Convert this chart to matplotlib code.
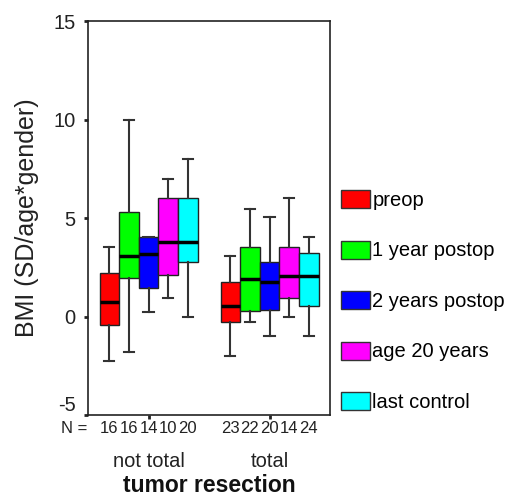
import matplotlib.pyplot as plt
from matplotlib.patches import Patch

plt.rcParams['font.family'] = ['Liberation Sans', 'DejaVu Sans']
plt.rcParams['axes.unicode_minus'] = False

groups = ['not total', 'total']
series = ['preop', '1 year postop', '2 years postop', 'age 20 years', 'last control']
colors = ['#ff0000', '#00ff00', '#0000ff', '#ff00ff', '#00ffff']

# per series: [not total, total]
med = [[0.73, 0.51], [3.05, 1.90], [3.18, 1.75], [3.76, 2.08], [3.76, 2.07]]
q1 = [[-0.42, -0.28], [1.95, 0.29], [1.47, 0.34], [2.12, 0.93], [2.76, 0.54]]
q3 = [[2.23, 1.75], [5.30, 3.52], [4.03, 2.79], [6.00, 3.52], [6.00, 3.25]]
lo = [[-2.25, -2.03], [-1.80, -0.28], [0.22, -1.01], [0.96, 0.00], [0.00, -1.01]]
hi = [[3.53, 3.05], [10.0, 5.47], [4.03, 5.04], [7.00, 6.00], [8.00, 4.03]]
counts = [[16, 23], [16, 22], [14, 20], [10, 14], [20, 24]]

fig = plt.figure(figsize=(5.07, 5.03), dpi=100)
ax = fig.add_axes([0.1736, 0.175, 0.4774, 0.783])

w = 0.162
for i in range(len(series)):
    stats = []
    pos = []
    for g in range(len(groups)):
        stats.append(dict(med=med[i][g], q1=q1[i][g], q3=q3[i][g],
                          whislo=lo[i][g], whishi=hi[i][g], fliers=[]))
        pos.append(g + 1 + (i - 2) * w)
    ax.bxp(stats, positions=pos, widths=w, patch_artist=True, manage_ticks=False,
           boxprops=dict(facecolor=colors[i], edgecolor='#222222', linewidth=1.0),
           medianprops=dict(color='black', linewidth=2.5),
           whiskerprops=dict(color='#333333', linewidth=1.5),
           capprops=dict(color='#333333', linewidth=1.5), capwidths=w * 0.52)
    for g in range(len(groups)):
        ax.text(pos[g], -0.035, str(counts[i][g]), transform=ax.get_xaxis_transform(),
                ha='center', va='center', fontsize=12, color='#222222')

ax.text(0.5 - 0.005, -0.035, 'N =', transform=ax.get_xaxis_transform(),
        ha='right', va='center', fontsize=12, color='#222222')
for g, name in enumerate(groups):
    ax.text(g + 1, -0.117, name, transform=ax.get_xaxis_transform(),
            ha='center', va='center', fontsize=14.5, color='#222222')

ax.set_xlim(0.5, 2.5)
ax.set_ylim(-5, 15)
ax.set_xticks([1, 2])
ax.set_xticklabels([])
ax.set_yticks([-5, 0, 5, 10, 15])
ax.tick_params(axis='both', direction='out', length=3, width=2, labelsize=14.5,
               colors='#222222')
ax.tick_params(axis='y', pad=6)
ax.get_yticklabels()[0].set_va('bottom')
for s in ax.spines.values():
    s.set_linewidth(1.2)
    s.set_color('#222222')

ax.set_ylabel('BMI (SD/age*gender)', fontsize=18, color='#222222', labelpad=10)
ax.set_xlabel('tumor resection', fontsize=16.5, fontweight='bold', color='#111111',
              labelpad=36)

handles = [Patch(facecolor=c, edgecolor='#333333', linewidth=1.0) for c in colors]
fig.legend(handles, series, loc='upper left', bbox_to_anchor=(341 / 507, 1 - 190 / 503),
           frameon=False, fontsize=14.5, handlelength=1.45, handleheight=1.0,
           handletextpad=0.1, labelspacing=1.52, borderpad=0, borderaxespad=0)

fig.savefig('out.png', dpi=100)
